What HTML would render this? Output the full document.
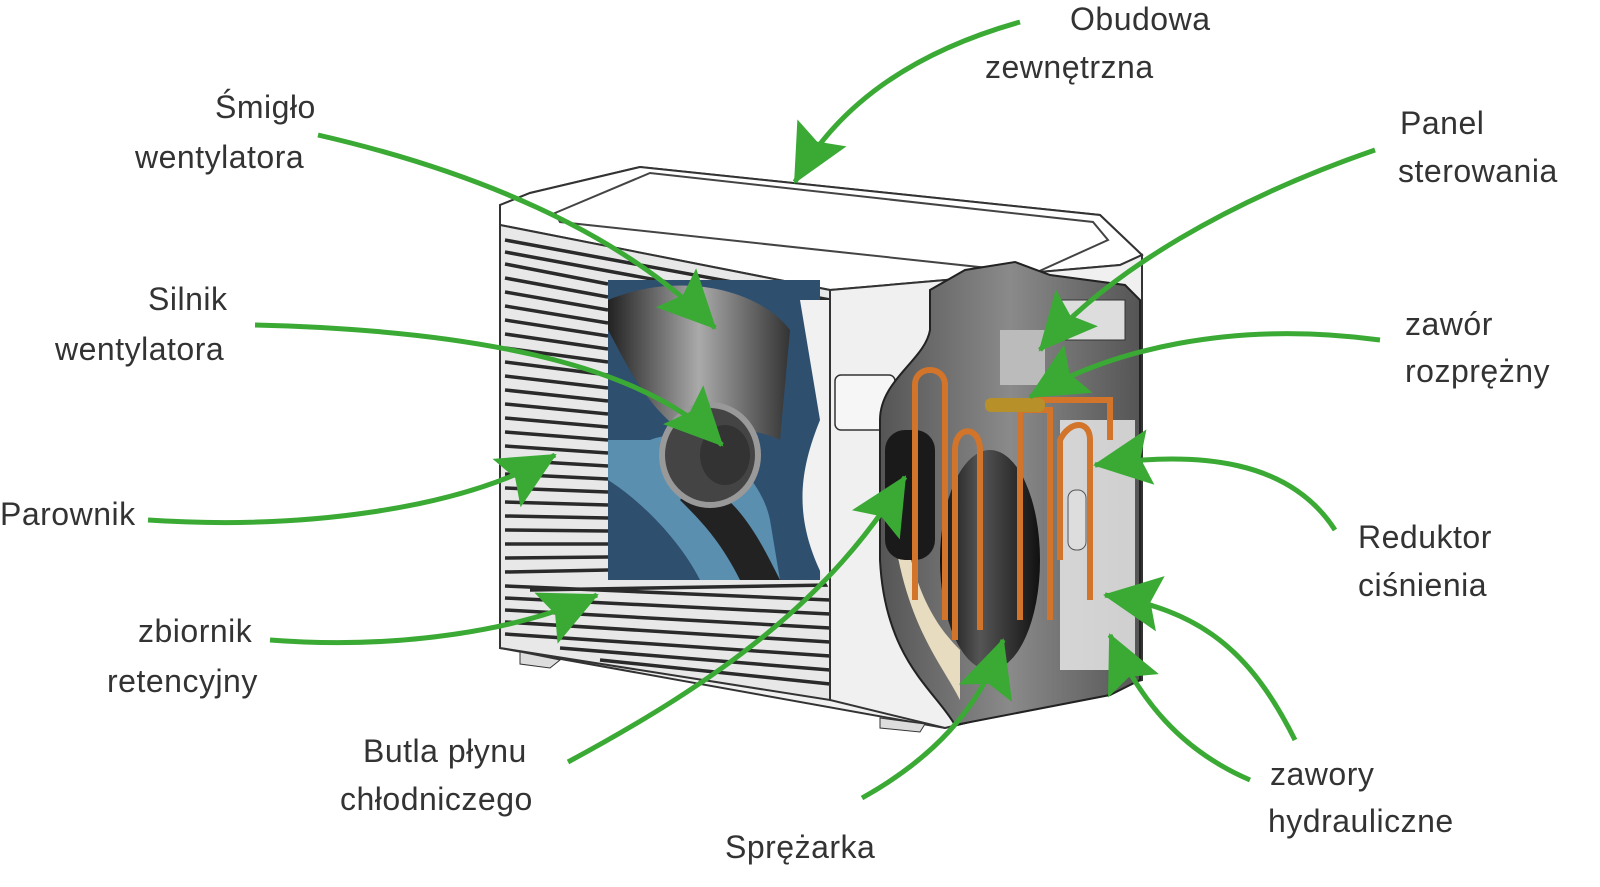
<!DOCTYPE html>
<html><head><meta charset="utf-8"><style>
html,body{margin:0;padding:0;background:#fff;}
svg{display:block}
text{font-family:"Liberation Sans",sans-serif;font-size:32px;fill:#333;letter-spacing:0.5px}
</style></head><body>
<svg width="1600" height="887" viewBox="0 0 1600 887" xmlns="http://www.w3.org/2000/svg">
<defs>
<marker id="ah" markerUnits="userSpaceOnUse" markerWidth="60" markerHeight="56" refX="56" refY="28" orient="auto">
<polygon points="0,0 58,28 0,56 10,28" fill="#3aaa35"/>
</marker>
<linearGradient id="fan" x1="0" x2="1"><stop offset="0" stop-color="#222"/><stop offset=".5" stop-color="#aaa"/><stop offset="1" stop-color="#333"/></linearGradient>
<linearGradient id="comp" x1="0" x2="1"><stop offset="0" stop-color="#111"/><stop offset=".4" stop-color="#555"/><stop offset="1" stop-color="#111"/></linearGradient>
<linearGradient id="cut" x1="0" x2="1"><stop offset="0" stop-color="#555"/><stop offset=".5" stop-color="#8a8a8a"/><stop offset="1" stop-color="#555"/></linearGradient>
</defs>
<polygon points="500,205 530,193 640,167 1100,215 1142,255 1142,680 945,728 500,648" fill="#f1f1f1" stroke="#333" stroke-width="2"/>
<polygon points="500,205 530,193 640,167 1100,215 1142,255 1120,265 830,290 500,225" fill="#fff" stroke="#333" stroke-width="2"/>
<polygon points="555,213 650,173 1093,222 1108,240 1035,273 560,222" fill="#fff" stroke="#444" stroke-width="2"/>
<polygon points="500,225 830,290 830,700 500,648" fill="#e8e8e8" stroke="#333" stroke-width="2"/>
<g stroke="#2a2a2a" stroke-width="3.5">
<line x1="505" y1="240" x2="830" y2="300"/><line x1="505" y1="252" x2="830" y2="312"/><line x1="505" y1="264" x2="608" y2="284"/>
<line x1="505" y1="278" x2="608" y2="297"/><line x1="505" y1="292" x2="608" y2="310"/><line x1="505" y1="306" x2="608" y2="323"/>
<line x1="505" y1="320" x2="608" y2="336"/><line x1="505" y1="334" x2="608" y2="349"/><line x1="505" y1="348" x2="608" y2="362"/>
<line x1="505" y1="362" x2="608" y2="375"/><line x1="505" y1="376" x2="608" y2="388"/><line x1="505" y1="390" x2="608" y2="401"/>
<line x1="505" y1="404" x2="608" y2="414"/><line x1="505" y1="418" x2="608" y2="427"/><line x1="505" y1="432" x2="608" y2="440"/>
<line x1="505" y1="446" x2="608" y2="453"/><line x1="505" y1="460" x2="608" y2="466"/><line x1="505" y1="474" x2="608" y2="479"/>
<line x1="505" y1="488" x2="608" y2="492"/><line x1="505" y1="502" x2="608" y2="505"/><line x1="505" y1="516" x2="608" y2="518"/>
<line x1="505" y1="530" x2="608" y2="531"/><line x1="505" y1="544" x2="608" y2="544"/><line x1="505" y1="558" x2="608" y2="557"/>
<line x1="505" y1="572" x2="608" y2="570"/><line x1="505" y1="586" x2="830" y2="600"/><line x1="505" y1="598" x2="830" y2="614"/>
<line x1="505" y1="610" x2="830" y2="628"/><line x1="505" y1="622" x2="830" y2="642"/><line x1="505" y1="634" x2="830" y2="656"/>
<line x1="530" y1="590" x2="830" y2="585"/><line x1="560" y1="648" x2="830" y2="670"/><line x1="600" y1="660" x2="830" y2="684"/>
</g>
<rect x="608" y="280" width="212" height="300" fill="#2f4f6f"/>
<path d="M608,300 C680,270 760,290 790,330 L780,440 C740,420 700,440 680,430 C640,400 620,350 608,330Z" fill="url(#fan)"/>
<path d="M650,440 C700,420 760,470 770,520 L780,580 L700,580 C680,540 640,500 608,480 L608,440Z" fill="#5a8fb0"/>
<path d="M700,480 C740,500 760,540 780,580 L740,580 C720,540 700,520 680,500Z" fill="#222"/>
<ellipse cx="710" cy="455" rx="48" ry="50" fill="#444" stroke="#999" stroke-width="6"/>
<ellipse cx="725" cy="455" rx="25" ry="30" fill="#333"/>
<path d="M780,300 L830,300 L830,590 C790,520 800,470 820,420 L800,300Z" fill="#f1f1f1"/>
<polygon points="830,290 1120,265 1142,255 1142,680 945,728 830,700" fill="#f0f0f0" stroke="#333" stroke-width="2"/>
<rect x="835" y="375" width="60" height="55" rx="6" fill="#f6f6f6" stroke="#333" stroke-width="1.5"/>
<path d="M930,290 L965,270 L1015,262 L1050,275 L1125,285 L1140,300 L1140,680 L1110,695 L955,725 C935,690 885,660 880,560 L880,420 C880,380 925,360 930,330Z" fill="url(#cut)" stroke="#222" stroke-width="2"/>
<path d="M890,500 C900,620 940,660 960,700 L960,650 C930,620 910,580 900,500Z" fill="#e8dcc0"/>
<ellipse cx="990" cy="560" rx="50" ry="110" fill="url(#comp)"/>
<rect x="885" y="430" width="50" height="130" rx="20" fill="#1a1a1a"/>
<rect x="1000" y="330" width="45" height="55" fill="#bbb"/>
<rect x="1060" y="420" width="75" height="250" fill="#eee" opacity=".8"/>
<rect x="1055" y="300" width="70" height="40" fill="#ddd" stroke="#333"/>
<g fill="none" stroke="#d2742a" stroke-width="6">
<path d="M915,600 L915,385 C915,365 945,365 945,385 L945,620"/>
<path d="M955,640 L955,450 C955,425 980,425 980,450 L980,630"/>
<path d="M1020,620 L1020,410 L1050,410 L1050,620"/>
<path d="M1060,560 L1060,440 C1070,420 1090,420 1090,440 L1090,600"/>
<path d="M1030,400 L1110,400 L1110,440"/>
</g>
<rect x="985" y="398" width="60" height="14" rx="6" fill="#b8902a"/>
<rect x="1068" y="490" width="18" height="60" rx="8" fill="#ddd" stroke="#555"/>
<path d="M520,652 L560,660 L550,668 L520,664Z" fill="#ddd" stroke="#333"/>
<path d="M880,718 L925,724 L920,732 L880,728Z" fill="#ddd" stroke="#333"/>
<g fill="none" stroke="#3aaa35" stroke-width="5" marker-end="url(#ah)">
<path d="M1020,22 C920,50 840,100 795,182"/>
<path d="M318,135 C470,170 620,230 715,328"/>
<path d="M255,325 C460,330 640,360 722,445"/>
<path d="M148,520 C300,530 460,510 555,455"/>
<path d="M270,640 C400,650 520,630 597,595"/>
<path d="M568,762 C720,680 830,600 905,477"/>
<path d="M862,798 C930,760 980,710 1003,640"/>
<path d="M1375,150 C1230,200 1110,270 1040,350"/>
<path d="M1380,340 C1230,320 1110,350 1030,397"/>
<path d="M1335,530 C1290,460 1200,450 1095,465"/>
<path d="M1295,740 C1250,650 1200,610 1105,595"/>
<path d="M1250,780 C1180,750 1140,700 1110,635"/>
</g>
<text x="1070" y="30">Obudowa</text>
<text x="985" y="78">zewnętrzna</text>
<text x="215" y="118">Śmigło</text>
<text x="135" y="168">wentylatora</text>
<text x="1400" y="134">Panel</text>
<text x="1398" y="182">sterowania</text>
<text x="148" y="310">Silnik</text>
<text x="55" y="360">wentylatora</text>
<text x="1405" y="335">zawór</text>
<text x="1405" y="382">rozprężny</text>
<text x="0" y="525">Parownik</text>
<text x="1358" y="548">Reduktor</text>
<text x="1358" y="596">ciśnienia</text>
<text x="138" y="642">zbiornik</text>
<text x="107" y="692">retencyjny</text>
<text x="363" y="762">Butla płynu</text>
<text x="340" y="810">chłodniczego</text>
<text x="725" y="858">Sprężarka</text>
<text x="1270" y="785">zawory</text>
<text x="1268" y="832">hydrauliczne</text>
</svg>
</body></html>
